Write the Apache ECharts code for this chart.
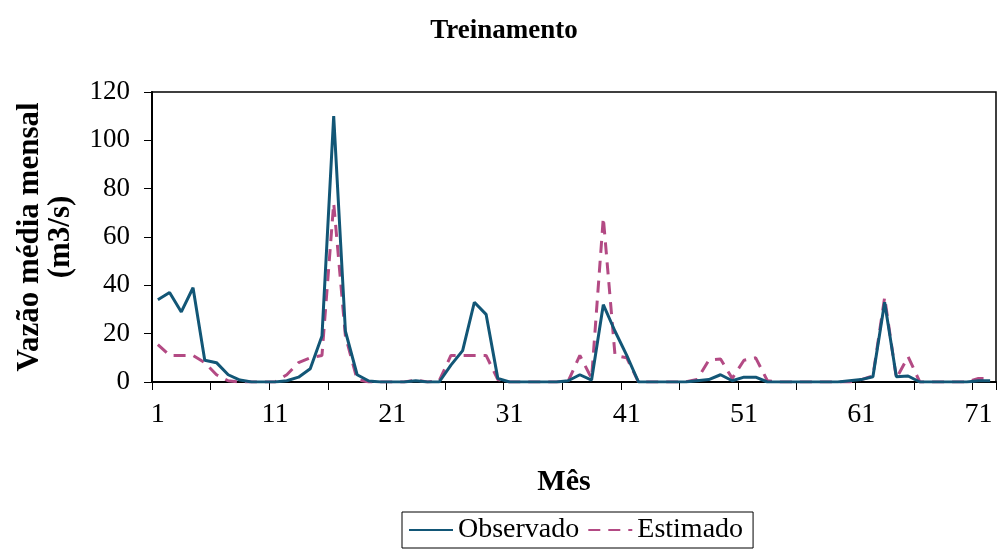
<!DOCTYPE html>
<html>
<head>
<meta charset="utf-8">
<script src="https://cdn.jsdelivr.net/npm/echarts@6/dist/echarts.min.js"></script>
<style>
  html, body { margin: 0; padding: 0; background: #fff; }
  #chart { width: 998px; height: 553px; }
</style>
</head>
<body>
<div id="chart"></div>
<script>
// Monthly mean flow (m3/s): observed vs. network estimate, training set
const months = Array.from({ length: 72 }, (_, i) => String(i + 1));

const observado = [
  34, 37, 29, 39, 9, 8, 3, 0.8, 0, 0,
  0, 0.5, 2, 5.5, 19, 110, 21, 3, 0.4, 0,
  0, 0, 0.5, 0, 0, 7, 13, 33, 28, 1.5,
  0, 0, 0, 0, 0, 0.5, 3, 0.8, 32, 21,
  11, 0, 0, 0, 0, 0, 0.5, 1, 3, 0.5,
  2, 2, 0, 0, 0, 0, 0, 0, 0, 0.5,
  1, 2.2, 33, 2.2, 2.5, 0, 0, 0, 0, 0,
  0.5, 0.5
];

const estimado = [
  15.5, 11, 11, 11, 8, 3, 0.5, 0, 0, 0,
  0, 3, 8, 10, 11, 74, 19, 1, 0, 0,
  0, 0, 0.8, 0, 0.5, 11, 11, 11, 11, 1,
  0, 0, 0, 0, 0, 0.3, 11, 1.5, 68, 11,
  10, 0, 0, 0, 0, 0, 1, 9, 9.5, 1.5,
  9, 10, 0.5, 0, 0, 0, 0, 0, 0, 0,
  1, 2.5, 35, 1.5, 10.5, 0, 0, 0, 0, 0,
  1.5, 1.5
];

const serif = '"Liberation Serif", "DejaVu Serif", serif';

const chart = echarts.init(document.getElementById('chart'));
chart.setOption({
  backgroundColor: '#fff',
  animation: false,
  title: {
    text: 'Treinamento',
    left: 499,
    top: 13,
    textAlign: 'center',
    textStyle: { fontFamily: serif, fontSize: 27, fontWeight: 'bold', color: '#000' }
  },
  legend: {
    left: 402,
    top: 512,
    itemGap: 8,
    itemWidth: 44,
    itemHeight: 14,
    padding: [4, 10, 4, 6],
    borderColor: '#000',
    borderWidth: 1,
    itemStyle: { opacity: 0 },
    textStyle: { fontFamily: serif, fontSize: 28, color: '#000', padding: [0, 0, 0, 0] },
    data: ['Observado', 'Estimado']
  },
  grid: {
    left: 152,
    right: 2,
    top: 92,
    bottom: 171,
    show: true,
    borderColor: '#000',
    borderWidth: 1.5
  },
  xAxis: {
    type: 'category',
    data: months,
    boundaryGap: true,
    name: 'Mês',
    nameLocation: 'middle',
    nameGap: 85,
    nameTextStyle: { fontFamily: serif, fontSize: 30, fontWeight: 'bold', color: '#000', padding: [0, 20, 0, 0] },
    axisLine: { lineStyle: { color: '#000', width: 2 } },
    axisTick: { show: true, interval: 4, length: 8, lineStyle: { color: '#000', width: 1 } },
    axisLabel: { interval: 9, margin: 19, fontFamily: serif, fontSize: 28, color: '#000' },
    splitLine: { show: false }
  },
  yAxis: {
    type: 'value',
    min: 0,
    max: 120,
    interval: 20,
    name: 'Vazão média mensal\n(m3/s)',
    nameLocation: 'middle',
    nameGap: 76,
    nameTextStyle: { fontFamily: serif, fontSize: 31, fontWeight: 'bold', color: '#000', lineHeight: 31 },
    axisLine: { show: true, lineStyle: { color: '#000', width: 2 } },
    axisTick: { show: true, length: 8, lineStyle: { color: '#000', width: 1 } },
    axisLabel: { margin: 22, fontFamily: serif, fontSize: 27, color: '#000' },
    splitLine: { show: false }
  },
  series: [
    {
      name: 'Observado',
      type: 'line',
      data: observado,
      symbol: 'none',
      z: 3,
      lineStyle: { color: '#125676', width: 3 },
      itemStyle: { color: '#125676' }
    },
    {
      name: 'Estimado',
      type: 'line',
      data: estimado,
      symbol: 'none',
      z: 2,
      lineStyle: { color: '#b34a84', width: 3, type: [12, 8] },
      itemStyle: { color: '#b34a84' }
    }
  ]
});
</script>
</body>
</html>
